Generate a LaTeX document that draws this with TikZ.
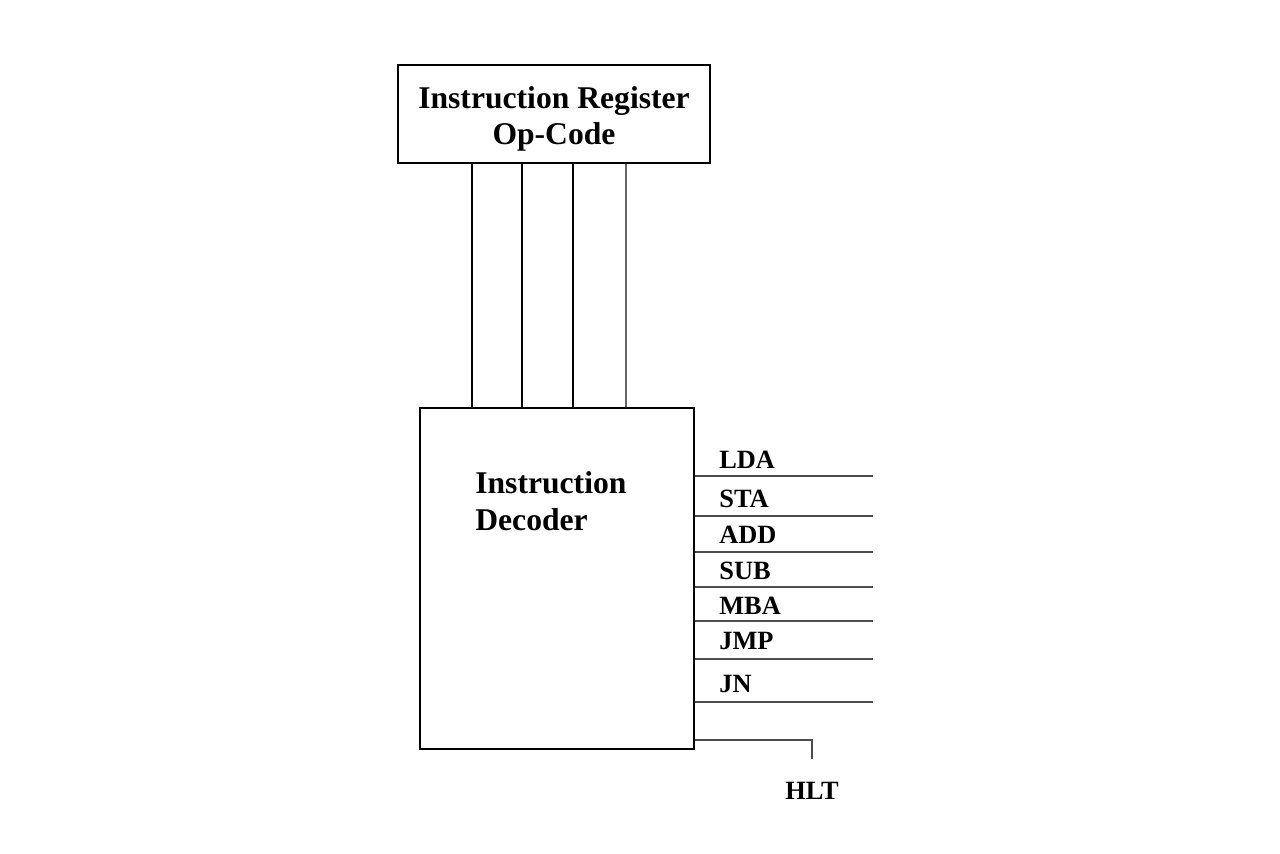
\documentclass[tikz,border=0pt]{standalone}
\usepackage{fontspec}
\setmainfont{Liberation Serif}
\usetikzlibrary{positioning}
\tikzset{
  regbox/.style={rectangle,draw=black,line width=1.6pt,inner sep=0pt,
                 minimum width=6.24cm,minimum height=1.96cm},
  regtxt/.style={align=center,inner sep=0pt,
                 font=\fontsize{18}{20.5}\selectfont\bfseries},
  decbox/.style={rectangle,draw=black,line width=1.2pt,inner sep=0pt,
                 minimum width=5.48cm,minimum height=6.82cm},
  dectxt/.style={anchor=west,align=left,inner sep=0pt,
                 font=\fontsize{18}{21}\selectfont\bfseries},
  sig/.style={anchor=west,inner sep=0pt,font=\fontsize{15}{17}\selectfont\bfseries},
  bus/.style={line width=1.3pt,color=black},
  outln/.style={line width=0.9pt,color=black!70},
}
\begin{document}
\begin{tikzpicture}[x=0.02cm,y=-0.02cm]
  \useasboundingbox (0,0) rectangle (1280,853);

  % op-code register and decoder
  \node[regbox] (ir) at (554,114){};
  \node[regtxt] (irtext) at (554,119){Instruction Register\\Op-Code};
  \node[decbox] (dec) at (557,578.5){};
  \node[dectxt] (dectext) at (475,501.5){Instruction\\Decoder};

  % op-code bits into the decoder
  \foreach \bx in {472,522,573}
    \draw[bus] (ir.south -| \bx,0) -- (dec.north -| \bx,0);
  \draw[line width=0.9pt,color=black!60] (ir.south -| 626,0) -- (dec.north -| 626,0);

  % decoder outputs
  \node[sig] (lda) at (719,460){LDA};
  \node[sig] (sta) at (719,499){STA};
  \node[sig] (add) at (719,535){ADD};
  \node[sig] (sub) at (719,571){SUB};
  \node[sig] (mba) at (719,606){MBA};
  \node[sig] (jmp) at (719,641){JMP};
  \node[sig] (jn)  at (719,684){JN};

  \foreach \ly/\lw in {476/0.9pt,516/1.4pt,552/1.4pt,587/0.9pt,621/0.9pt,659/0.9pt,702/0.9pt}{
    \coordinate (out\ly) at (873,\ly);
    \draw[outln,line width=\lw] (dec.east |- out\ly) -- (out\ly);
  }

  % halt output
  \coordinate (hltbend) at (812,740);
  \coordinate (hltend) at (812,759);
  \node[sig,anchor=center] (hlt) at (812,791){HLT};
  \draw[outln] (dec.east |- hltbend) -- (hltbend) -- (hltend);

\end{tikzpicture}
\end{document}
